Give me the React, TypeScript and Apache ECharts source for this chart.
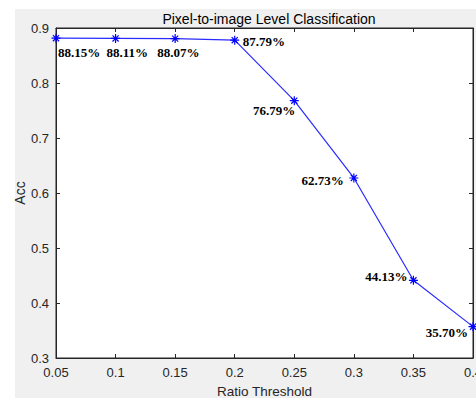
import React, { useEffect, useRef } from "react";
import * as echarts from "echarts";

const thresholds = [0.05, 0.1, 0.15, 0.2, 0.25, 0.3, 0.35, 0.4];
const accuracy = [0.8815, 0.8811, 0.8807, 0.8779, 0.7679, 0.6273, 0.4413, 0.357];
const accLabels = ["88.15%", "88.11%", "88.07%", "87.79%", "76.79%", "62.73%", "44.13%", "35.70%"];

// label placement (style): [align, offsetX, offsetY]
const labelPlace: [string, number, number][] = [
  ["left", 2, 14],
  ["left", -9, 14],
  ["left", -18, 14],
  ["left", 8, 1],
  ["right", 1, 10],
  ["right", -10, 3],
  ["right", -6, -4],
  ["right", -5, 6],
];

const axisColor = "#262626";
const sans = "Liberation Sans";

export default function App() {
  const ref = useRef<HTMLDivElement>(null);
  useEffect(() => {
    if (!ref.current) return;
    document.documentElement.style.overflow = "hidden";
    document.body.style.margin = "0";
    document.body.style.overflow = "hidden";
    const chart = echarts.init(ref.current, null, { renderer: "svg", width: 476, height: 398 });
    const data = thresholds.map((t, i) => ({
      value: [t, accuracy[i]],
      label: {
        show: true,
        formatter: accLabels[i],
        position: "inside",
        align: labelPlace[i][0],
        verticalAlign: "middle",
        offset: [labelPlace[i][1], labelPlace[i][2]],
        fontFamily: "Liberation Serif",
        fontWeight: "bold",
        fontSize: 13,
        color: "#000",
      },
    }));
    const tickFmt2 = (v: number) => {
      const s = v.toFixed(2);
      return s.endsWith("0") ? v.toFixed(1) : s;
    };
    chart.setOption({
      animation: false,
      backgroundColor: "#fff",
      graphic: [
        {
          type: "rect",
          z: -10,
          silent: true,
          shape: { x: 15, y: 9, width: 461, height: 389 },
          style: { fill: "#f0f0f0" },
        },
      ],
      title: {
        text: "Pixel-to-image Level Classification",
        left: 264,
        textAlign: "center",
        top: 7,
        textStyle: { fontFamily: sans, fontSize: 14, fontWeight: "normal", color: "#000" },
      },
      grid: {
        left: 56,
        top: 28,
        right: 3,
        bottom: 40,
        outerBoundsMode: "none",
        containLabel: false,
        show: true,
        backgroundColor: "#fff",
        borderColor: axisColor,
        borderWidth: 1,
      },
      xAxis: [
        {
          type: "value",
          min: 0.05,
          max: 0.4,
          interval: 0.05,
          name: "Ratio Threshold",
          nameLocation: "middle",
          nameGap: 26,
          nameMoveOverlap: false,
          nameTextStyle: { fontFamily: sans, fontSize: 13.5, color: axisColor },
          axisLine: { show: true, lineStyle: { color: axisColor, width: 1 } },
          axisTick: { show: true, inside: true, length: 4, lineStyle: { color: axisColor } },
          axisLabel: {
            fontFamily: sans,
            fontSize: 13,
            color: axisColor,
            margin: 8,
            formatter: tickFmt2,
          },
          splitLine: { show: false },
        },
        {
          type: "value",
          position: "top",
          min: 0.05,
          max: 0.4,
          interval: 0.05,
          axisLine: { show: true, lineStyle: { color: axisColor, width: 1 } },
          axisTick: { show: true, inside: true, length: 4, lineStyle: { color: axisColor } },
          axisLabel: { show: false },
          splitLine: { show: false },
        },
      ],
      yAxis: [
        {
          type: "value",
          min: 0.3,
          max: 0.9,
          interval: 0.1,
          name: "Acc",
          nameLocation: "middle",
          nameGap: 29,
          nameMoveOverlap: false,
          nameTextStyle: { fontFamily: sans, fontSize: 14, color: axisColor },
          axisLine: { show: true, lineStyle: { color: axisColor, width: 1 } },
          axisTick: { show: true, inside: true, length: 4, lineStyle: { color: axisColor } },
          axisLabel: {
            fontFamily: sans,
            fontSize: 13,
            color: axisColor,
            margin: 7,
            formatter: (v: number) => v.toFixed(1),
          },
          splitLine: { show: false },
        },
        {
          type: "value",
          position: "right",
          min: 0.3,
          max: 0.9,
          interval: 0.1,
          axisLine: { show: true, lineStyle: { color: axisColor, width: 1 } },
          axisTick: { show: true, inside: true, length: 4, lineStyle: { color: axisColor } },
          axisLabel: { show: false },
          splitLine: { show: false },
        },
      ],
      series: [
        {
          type: "line",
          data,
          xAxisIndex: 0,
          yAxisIndex: 0,
          symbol: "path://M5 0 L5 10 M0 5 L10 5 M1.6 1.6 L8.4 8.4 M1.6 8.4 L8.4 1.6",
          symbolSize: 9,
          showAllSymbol: true,
          clip: false,
          lineStyle: { color: "#2b2bff", width: 1.2 },
          itemStyle: { color: "#0000ff", borderColor: "#0000ff", borderWidth: 1.2 },
        },
      ],
    });
    return () => chart.dispose();
  }, []);
  return <div ref={ref} style={{ width: 476, height: 398, position: "fixed", left: 0, top: 0, overflow: "hidden" }} />;
}
